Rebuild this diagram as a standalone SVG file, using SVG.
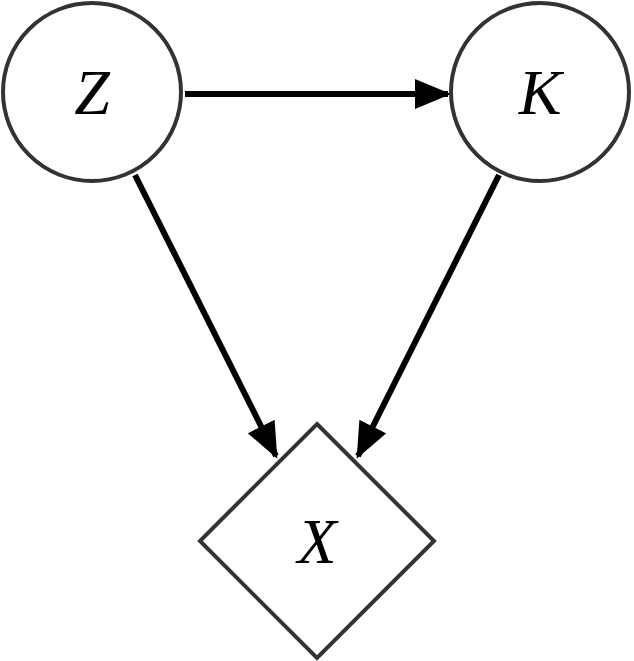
<svg xmlns="http://www.w3.org/2000/svg" width="634" height="661" viewBox="0 0 634 661">
<style>
.n{fill:#fff;stroke:#333;stroke-width:4}
.t{font-family:"Liberation Serif",serif;font-style:italic;font-size:64px;fill:#000;text-anchor:middle}
.e{stroke:#000;stroke-width:6;fill:none}
</style>
<defs><marker id="a" markerWidth="6" markerHeight="5" refX="5.5" refY="2.5" orient="auto" markerUnits="strokeWidth"><path d="M0,0 L6,2.5 L0,5 Z" fill="#000"/></marker></defs>
<rect width="634" height="661" fill="#fff"/>
<g id="edges">
<line class="e" x1="185" y1="94" x2="448" y2="94" marker-end="url(#a)"/>
<line class="e" x1="135" y1="175" x2="276" y2="456" marker-end="url(#a)"/>
<line class="e" x1="499" y1="175" x2="358" y2="456" marker-end="url(#a)"/>
</g>
<g id="Z"><circle class="n" cx="92" cy="92" r="89"/><text class="t" x="92" y="114">Z</text></g>
<g id="K"><circle class="n" cx="540" cy="92" r="89"/><text class="t" x="540" y="114">K</text></g>
<g id="X"><polygon class="n" points="317,424 434,541 317,658 200,541"/><text class="t" x="317" y="563">X</text></g>
</svg>
